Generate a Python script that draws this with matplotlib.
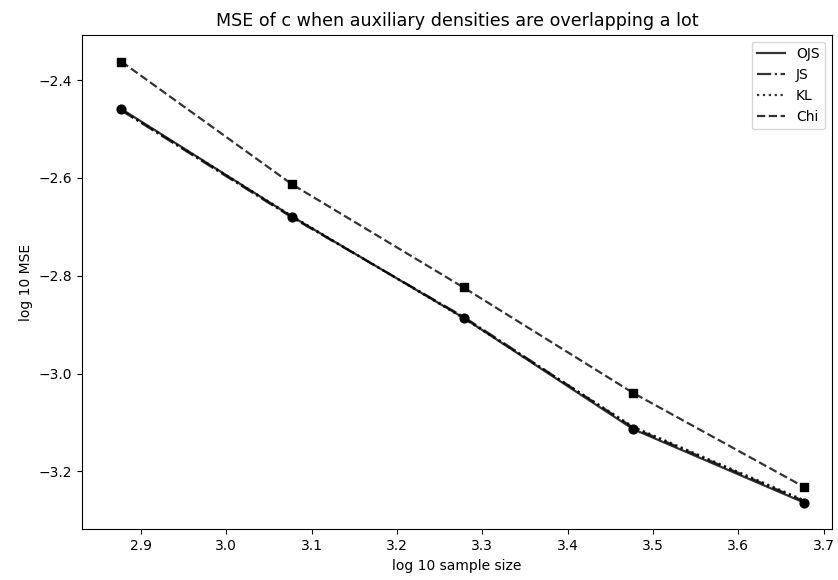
import matplotlib.pyplot as plt

# log10 sample size and log10 MSE for each divergence
log_n = [2.877, 3.077, 3.278, 3.477, 3.677]

ojs = [-2.459, -2.679, -2.886, -3.114, -3.264]
js = [-2.462, -2.681, -2.884, -3.111, -3.261]
kl = [-2.461, -2.678, -2.887, -3.109, -3.259]
chi = [-2.362, -2.613, -2.824, -3.040, -3.232]

fig = plt.figure(figsize=(8.38, 5.8), dpi=100)
ax = fig.add_axes([0.0975, 0.0874, 0.8955, 0.853])

ax.plot(log_n, ojs, '-', color='k', alpha=0.8, lw=1.6, label='OJS')
ax.plot(log_n, js, '-.', color='k', alpha=0.8, lw=1.6, label='JS')
ax.plot(log_n, kl, ':', color='k', alpha=0.8, lw=1.6, label='KL')
ax.plot(log_n, chi, '--', color='k', alpha=0.8, lw=1.6, label='Chi')

# markers drawn separately so the legend shows plain lines
ax.scatter(log_n, ojs, marker='o', color='k', s=40, zorder=3)
ax.scatter(log_n, chi, marker='s', color='k', s=40, zorder=3)

ax.set_xlim(2.8305, 3.710)
ax.set_ylim(-3.3187, -2.3067)

ax.set_title("MSE of c when auxiliary densities are overlapping a lot", fontsize=12.6)
ax.set_xlabel("log 10 sample size")
ax.set_ylabel("log 10 MSE")
ax.legend(loc='upper right')

fig.savefig('out.png', dpi=100)
